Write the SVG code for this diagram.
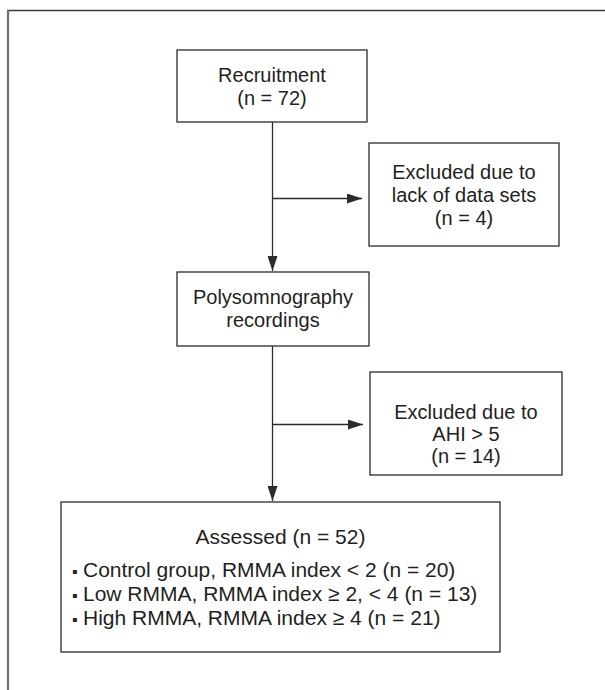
<svg xmlns="http://www.w3.org/2000/svg" width="605" height="690" viewBox="0 0 605 690">
  <defs>
    <style>
      .box { fill: #ffffff; stroke: #2b2b2b; stroke-width: 1.3; }
      .conn { fill: none; stroke: #2b2b2b; stroke-width: 1.3; }
      .t { font-family: "Liberation Sans", Arial, Helvetica, sans-serif; font-size: 20px; fill: #231f20; text-anchor: middle; }
      .tl { font-family: "Liberation Sans", Arial, Helvetica, sans-serif; font-size: 21px; fill: #231f20; }
      .b { font-size: 16px; }
    </style>
    <marker id="arrow" markerUnits="userSpaceOnUse" markerWidth="15" markerHeight="10" refX="15" refY="5" orient="auto">
      <path d="M0,0 L15,5 L0,10 z" fill="#2b2b2b"/>
    </marker>
  </defs>
  <rect width="605" height="690" fill="#ffffff"/>
  <g id="frame">
    <line x1="7" y1="10.5" x2="605" y2="10.5" stroke="#3a3a3a" stroke-width="1.5"/>
    <line x1="8" y1="10" x2="8" y2="690" stroke="#707070" stroke-width="2.2"/>
  </g>
  <g id="connectors">
    <line class="conn" x1="272.5" y1="122" x2="272.5" y2="271" marker-end="url(#arrow)"/>
    <line class="conn" x1="272.5" y1="198.5" x2="362" y2="198.5" marker-end="url(#arrow)"/>
    <line class="conn" x1="272.5" y1="346" x2="272.5" y2="501" marker-end="url(#arrow)"/>
    <line class="conn" x1="272.5" y1="424.5" x2="363" y2="424.5" marker-end="url(#arrow)"/>
  </g>
  <g id="recruitment">
    <rect class="box" x="177" y="50" width="190" height="72"/>
    <text class="t" x="272" y="82">Recruitment</text>
    <text class="t" x="272" y="105">(n = 72)</text>
  </g>
  <g id="excluded1">
    <rect class="box" x="369" y="143" width="190" height="103"/>
    <text class="t" x="464" y="179">Excluded due to</text>
    <text class="t" x="464" y="202">lack of data sets</text>
    <text class="t" x="464" y="225">(n = 4)</text>
  </g>
  <g id="polysomnography">
    <rect class="box" x="177" y="272" width="192" height="74"/>
    <text class="t" x="273" y="304">Polysomnography</text>
    <text class="t" x="273" y="327">recordings</text>
  </g>
  <g id="excluded2">
    <rect class="box" x="370" y="372" width="192" height="103"/>
    <text class="t" x="466" y="419">Excluded due to</text>
    <text class="t" x="466" y="441">AHI &gt; 5</text>
    <text class="t" x="466" y="463">(n = 14)</text>
  </g>
  <g id="assessed">
    <rect class="box" x="61" y="502" width="439" height="150"/>
    <text class="tl" x="280.5" y="544" text-anchor="middle">Assessed (n = 52)</text>
    <text class="tl" x="72" y="577"><tspan class="b">▪</tspan><tspan x="83">Control group, RMMA index &lt; 2 (n = 20)</tspan></text>
    <text class="tl" x="72" y="601"><tspan class="b">▪</tspan><tspan x="83">Low RMMA, RMMA index ≥ 2, &lt; 4 (n = 13)</tspan></text>
    <text class="tl" x="72" y="625"><tspan class="b">▪</tspan><tspan x="83">High RMMA, RMMA index ≥ 4 (n = 21)</tspan></text>
  </g>
</svg>
